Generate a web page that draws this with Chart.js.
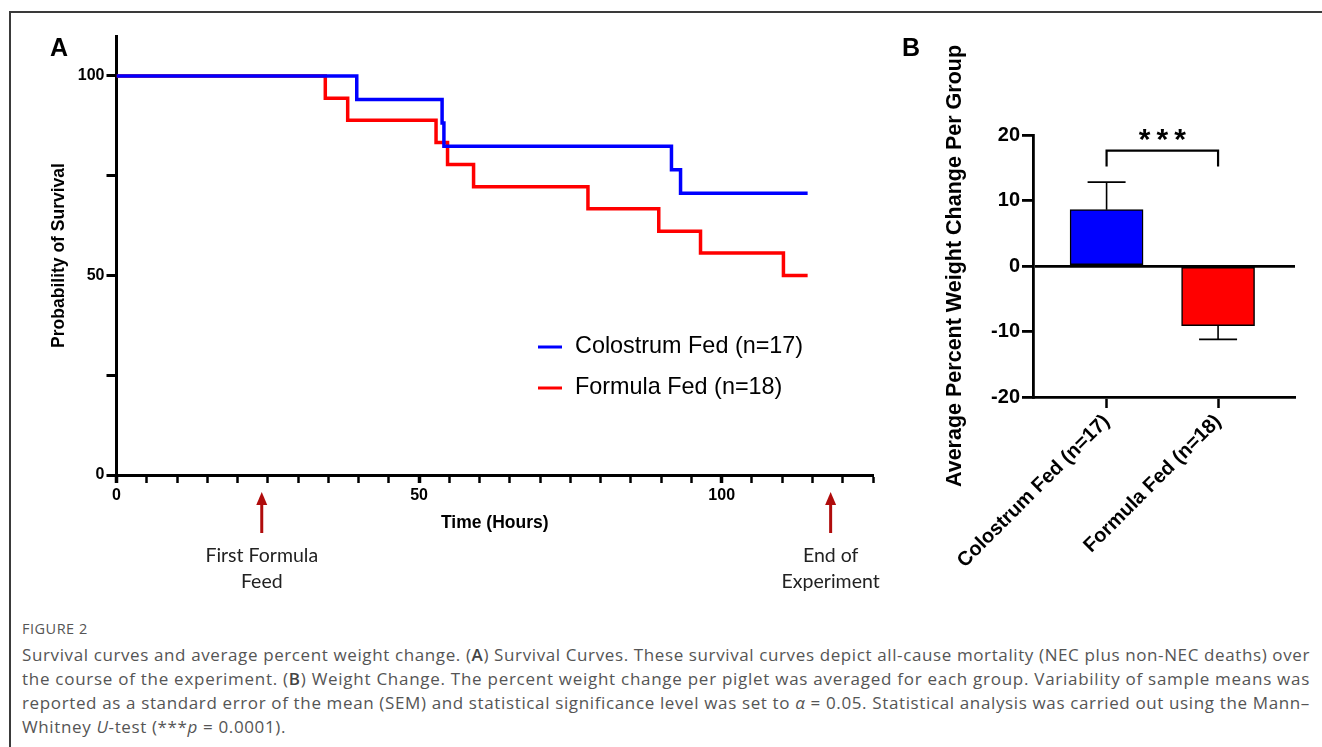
<!DOCTYPE html>
<html><head><meta charset="utf-8">
<script src="https://cdn.jsdelivr.net/npm/chart.js@4.4.1/dist/chart.umd.min.js"></script>
<style>
html,body{margin:0;padding:0;background:#fff;width:1322px;height:747px;overflow:hidden;}
#frame{position:absolute;left:9px;top:11px;width:1320px;height:740px;border-top:2px solid #3a3a3a;border-left:2px solid #3a3a3a;box-sizing:border-box;}
#wrapA{position:absolute;left:0;top:0;width:900px;height:600px;}
#wrapB{position:absolute;left:900px;top:0;width:422px;height:600px;}
.panel{position:absolute;font-family:"Liberation Sans",Arial,sans-serif;font-weight:bold;font-size:25px;line-height:25px;color:#000;}
#fig{position:absolute;left:22px;top:620px;font-family:"Open Sans",sans-serif;font-size:14.5px;letter-spacing:0.5px;color:#555;line-height:18px;}
.ln{position:absolute;left:22px;font-family:"Open Sans",sans-serif;font-size:17px;color:#555;white-space:nowrap;line-height:20px;}
.ln b{font-weight:600;color:#444;}
</style></head>
<body>
<div id="frame"></div>
<div id="wrapA"><canvas id="cA" width="900" height="600"></canvas></div>
<div id="wrapB"><canvas id="cB" width="422" height="600"></canvas></div>
<div class="panel" style="left:50px;top:35px;">A</div>
<div class="panel" style="left:902px;top:35px;">B</div>
<div id="fig">FIGURE 2</div>
<div class="ln" data-w="1288" style="top:645px;">Survival curves and average percent weight change. (<b>A</b>) Survival Curves. These survival curves depict all-cause mortality (NEC plus non-NEC deaths) over</div>
<div class="ln" data-w="1288" style="top:669px;">the course of the experiment. (<b>B</b>) Weight Change. The percent weight change per piglet was averaged for each group. Variability of sample means was</div>
<div class="ln" data-w="1288" style="top:693px;">reported as a standard error of the mean (SEM) and statistical significance level was set to <i>α</i> = 0.05. Statistical analysis was carried out using the Mann–</div>
<div class="ln" data-w="264" style="top:717px;">Whitney <i>U</i>-test (***<i>p</i> = 0.0001).</div>
<script>
// ---------- Panel A data (Kaplan–Meier survival, %) ----------
const colostrumTimes = [0, 39.7, 53.8, 54.1, 91.7, 93.2, 114.2];
const colostrumSurvival = [100, 94.1, 88.2, 82.4, 76.5, 70.6, 70.6];
const formulaTimes = [0, 34.5, 38.2, 52.8, 54.7, 59.0, 77.9, 89.6, 96.5, 110.2, 114.2];
const formulaSurvival = [100, 94.4, 88.9, 83.3, 77.8, 72.2, 66.7, 61.1, 55.6, 50, 50];
const seriesLabels = ['Colostrum Fed (n=17)', 'Formula Fed (n=18)'];
const timeTicks = [0,5,10,15,20,25,30,35,40,45,50,55,60,65,70,75,80,85,90,95,100,105,110,115,120,125];
const timeTickLabels = [0, 50, 100];
const survivalTicks = [0, 25, 50, 75, 100];
const survivalTickLabels = [0, 50, 100];
const arrowHours = [24, 118];
const arrowLabels = [['First Formula', 'Feed'], ['End of', 'Experiment']];

// ---------- Panel B data (average % weight change) ----------
const groups = ['Colostrum Fed (n=17)', 'Formula Fed (n=18)'];
const weightMeans = [8.6, -9.1];
const weightSem = [4.2, 2.1];
const weightTicks = [-20, -10, 0, 10, 20];
const significance = '***';

const FONT = '"Liberation Sans", Arial, sans-serif';
const BLUE = '#0000ff', RED = '#ff0000';

const toXY = (xs, ys) => xs.map((x, i) => ({x, y: ys[i]}));

// Legend inside plot A
const legendA = {
  id: 'legendA',
  afterDatasetsDraw(chart) {
    const ctx = chart.ctx;
    ctx.save();
    const rows = [347, 388];
    chart.data.datasets.forEach((ds, i) => {
      ctx.strokeStyle = ds.borderColor; ctx.lineWidth = 3;
      ctx.beginPath(); ctx.moveTo(538, rows[i]); ctx.lineTo(562, rows[i]); ctx.stroke();
      ctx.fillStyle = '#000'; ctx.font = '23.4px ' + FONT; ctx.textBaseline = 'middle'; ctx.textAlign = 'left';
      ctx.fillText(ds.label, 575, rows[i]);
    });
    ctx.restore();
  }
};
// Arrows with notes under the time axis
const arrowsA = {
  id: 'arrowsA',
  afterDraw(chart) {
    const ctx = chart.ctx, xs = chart.scales.x;
    ctx.save();
    arrowHours.forEach((h, i) => {
      const x = xs.getPixelForValue(h);
      ctx.strokeStyle = '#b00c0c'; ctx.fillStyle = '#b00c0c'; ctx.lineWidth = 3;
      ctx.beginPath(); ctx.moveTo(x, 533); ctx.lineTo(x, 503); ctx.stroke();
      ctx.beginPath(); ctx.moveTo(x, 492); ctx.lineTo(x - 5.5, 505); ctx.lineTo(x + 5.5, 505); ctx.closePath(); ctx.fill();
      ctx.fillStyle = '#222'; ctx.font = '19.5px Lato, "Open Sans", sans-serif';
      ctx.textAlign = 'center'; ctx.textBaseline = 'alphabetic';
      arrowLabels[i].forEach((t, j) => ctx.fillText(t, x, 562 + j * 25.5));
    });
    ctx.restore();
  }
};

new Chart(document.getElementById('cA'), {
  type: 'line',
  data: {
    datasets: [
      {label: seriesLabels[0], data: toXY(colostrumTimes, colostrumSurvival), borderColor: BLUE, borderWidth: 3.5, stepped: 'before', pointRadius: 0, fill: false},
      {label: seriesLabels[1], data: toXY(formulaTimes, formulaSurvival), borderColor: RED, borderWidth: 3.5, stepped: 'before', pointRadius: 0, fill: false}
    ]
  },
  options: {
    responsive: false, animation: false, devicePixelRatio: 1,
    layout: {padding: {left: 0, top: 36, right: 27, bottom: 0}},
    plugins: {legend: {display: false}, tooltip: {enabled: false}},
    scales: {
      x: {
        type: 'linear', min: 0, max: 125,
        afterBuildTicks: s => { s.ticks = timeTicks.map(v => ({value: v})); },
        afterFit: s => { s.height = 125; s.paddingLeft = 0; s.paddingRight = 0; },
        ticks: {autoSkip: false, maxRotation: 0, padding: 3, color: '#000', font: {family: FONT, size: 16, weight: 'bold'},
          callback: v => timeTickLabels.includes(v) ? String(v) : ''},
        grid: {drawOnChartArea: false, tickLength: 8, tickColor: '#000', tickWidth: c => (c.tick && timeTickLabels.includes(c.tick.value)) ? 3.5 : 2.5},
        border: {display: true, color: '#000', width: 3},
        title: {display: true, text: 'Time (Hours)', color: '#000', font: {family: FONT, size: 17.5, weight: 'bold'}, padding: {top: 0, bottom: 66}}
      },
      y: {
        type: 'linear', min: 0, max: 110,
        afterBuildTicks: s => { s.ticks = survivalTicks.map(v => ({value: v})); },
        afterFit: s => { s.width = 116.5; s.paddingTop = 0; s.paddingBottom = 0; },
        ticks: {autoSkip: false, padding: 2, color: '#000', font: {family: FONT, size: 16, weight: 'bold'},
          callback: v => survivalTickLabels.includes(v) ? String(v) : ''},
        grid: {drawOnChartArea: false, tickLength: 10, tickColor: '#000', tickWidth: 3},
        border: {display: true, color: '#000', width: 3},
        title: {display: true, text: 'Probability of Survival', color: '#000', font: {family: FONT, size: 17.5, weight: 'bold'}, padding: {top: 49, bottom: 0}}
      }
    }
  },
  plugins: [legendA, arrowsA]
});

// Panel B plugins
const errorBarsB = {
  id: 'errorBarsB',
  afterDatasetsDraw(chart) {
    const ctx = chart.ctx, xs = chart.scales.x, ys = chart.scales.y;
    ctx.save(); ctx.strokeStyle = '#000'; ctx.lineWidth = 1.6;
    weightMeans.forEach((m, i) => {
      const x = xs.getPixelForValue(i);
      const y0 = ys.getPixelForValue(m);
      const y1 = ys.getPixelForValue(m + Math.sign(m) * weightSem[i]);
      ctx.beginPath(); ctx.moveTo(x, y0); ctx.lineTo(x, y1);
      ctx.moveTo(x - 19, y1); ctx.lineTo(x + 19, y1); ctx.stroke();
    });
    // significance bracket
    const xa = xs.getPixelForValue(0), xb = xs.getPixelForValue(1);
    const yTop = ys.getPixelForValue(17.6), yLeg = ys.getPixelForValue(15.2);
    ctx.lineWidth = 2.2;
    ctx.beginPath(); ctx.moveTo(xa, yLeg); ctx.lineTo(xa, yTop); ctx.lineTo(xb, yTop); ctx.lineTo(xb, yLeg); ctx.stroke();
    ctx.fillStyle = '#000'; ctx.font = 'bold 30px ' + FONT; ctx.textAlign = 'center'; ctx.textBaseline = 'alphabetic';
    ctx.fillText(significance.split('').join('\u2009'), (xa + xb) / 2, yTop - 2);
    ctx.restore();
  }
};

new Chart(document.getElementById('cB'), {
  type: 'bar',
  data: {
    datasets: [{
      label: 'Average Percent Weight Change',
      data: weightMeans.map((v, i) => ({x: i, y: v})),
      backgroundColor: [BLUE, RED], borderColor: '#000', borderWidth: 1.5, borderSkipped: false, barThickness: 73
    }]
  },
  options: {
    responsive: false, animation: false, devicePixelRatio: 1,
    layout: {padding: {left: 0, top: 135, right: 27, bottom: 0}},
    plugins: {legend: {display: false}, tooltip: {enabled: false}},
    scales: {
      x: {
        type: 'linear', min: -0.66, max: 1.69, offset: false,
        afterBuildTicks: s => { s.ticks = groups.map((g, i) => ({value: i})); },
        afterFit: s => { s.height = 203; s.paddingLeft = 0; s.paddingRight = 0; },
        ticks: {autoSkip: false, minRotation: 45, maxRotation: 45, padding: 2, color: '#000', font: {family: FONT, size: 20, weight: 'bold'},
          callback: v => groups[v] !== undefined ? groups[v] : ''},
        grid: {offset: false, drawOnChartArea: false, tickLength: 11, tickColor: '#000', tickWidth: 2.5},
        border: {display: true, color: '#000', width: 2.8}
      },
      y: {
        type: 'linear', min: -20, max: 20,
        afterBuildTicks: s => { s.ticks = weightTicks.map(v => ({value: v})); },
        afterFit: s => { s.width = 133; s.paddingTop = 0; s.paddingBottom = 0; },
        ticks: {autoSkip: false, padding: 2, color: '#000', font: {family: FONT, size: 20, weight: 'bold'}},
        grid: {drawOnChartArea: true, color: c => (c.tick && c.tick.value === 0) ? '#000' : 'rgba(0,0,0,0)', lineWidth: 2.8,
          tickLength: 11, tickColor: '#000', tickWidth: 2.8},
        border: {display: true, color: '#000', width: 2.8},
        title: {display: true, text: 'Average Percent Weight Change Per Group', color: '#000', font: {family: FONT, size: 21.5, weight: 'bold'}, padding: {top: 42, bottom: 0}}
      }
    }
  },
  plugins: [errorBarsB]
});

// fit the caption lines to the text widths measured in the reference
function fitCaption() {
  document.querySelectorAll('.ln[data-w]').forEach(el => {
    el.style.letterSpacing = '0px';
    const target = parseFloat(el.dataset.w);
    const w = el.getBoundingClientRect().width;
    el.style.letterSpacing = ((target - w) / el.textContent.length) + 'px';
  });
}
fitCaption();
if (document.fonts && document.fonts.ready) document.fonts.ready.then(fitCaption);
</script>
</body></html>
